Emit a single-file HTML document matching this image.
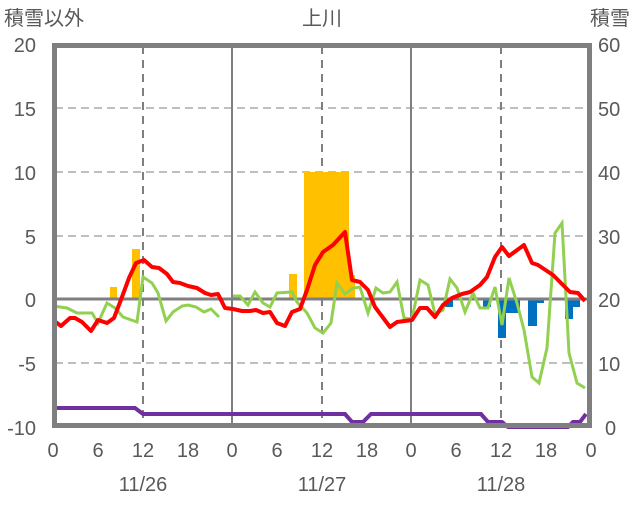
<!DOCTYPE html>
<html><head><meta charset="utf-8"><style>
html,body{margin:0;padding:0;background:#fff;}
svg text{font-family:"Liberation Sans","Noto Sans CJK JP",sans-serif;fill:#595959;font-size:20px;}
</style></head><body>
<svg width="636" height="501" viewBox="0 0 636 501" xmlns="http://www.w3.org/2000/svg">
<g stroke="#bfbfbf" stroke-width="2" stroke-dasharray="8,5">
<line x1="55" y1="108" x2="589" y2="108"/><line x1="55" y1="172" x2="589" y2="172"/>
<line x1="55" y1="236" x2="589" y2="236"/><line x1="55" y1="363" x2="589" y2="363"/>
</g>
<g stroke="#7f7f7f" stroke-width="2" stroke-dasharray="8,6">
<line x1="143" y1="46" x2="143" y2="425"/><line x1="322" y1="46" x2="322" y2="425"/><line x1="501" y1="46" x2="501" y2="425"/>
</g>
<g stroke="#7f7f7f" stroke-width="2">
<line x1="232" y1="46" x2="232" y2="425"/><line x1="411" y1="46" x2="411" y2="425"/>
</g>
<g fill="#ffc000">
<rect x="110" y="287" width="7" height="12"/><rect x="132" y="249" width="8" height="50"/>
<rect x="289" y="274" width="8" height="25"/><rect x="304" y="172" width="45" height="127"/>
<rect x="349" y="275" width="6" height="24"/>
</g>
<g fill="#0070c0">
<rect x="445" y="299" width="8" height="8"/><rect x="483" y="299" width="8" height="8"/>
<rect x="498" y="299" width="8" height="39"/><rect x="506" y="299" width="14" height="14"/>
<rect x="528" y="299" width="9" height="27"/><rect x="537" y="299" width="7" height="4"/>
<rect x="565" y="299" width="8" height="20"/><rect x="573" y="299" width="7" height="8"/>
</g>
<line x1="53" y1="299" x2="591" y2="299" stroke="#7f7f7f" stroke-width="3"/>
<polyline fill="none" stroke="#92d050" stroke-width="3" points="53,306 67,308 77,313 92,313 98,323 107,303 115,308 123,317 137,322 143,277 152,283 158,293 166,321 173,312 182,306 188,305 196,307 204,312 211,309 219,317"/>
<polyline fill="none" stroke="#92d050" stroke-width="3" points="233,296 240,296 248,305 255,292 263,303 270,307 277,293 292,292 297,302 307,313 315,328 323,333 331,323 337,283 345,294 353,288 360,287 368,313 376,288 383,293 390,292 397,282 404,318 412,319 420,280 428,285 435,314 443,310 450,279 457,288 465,312 473,293 480,308 488,308 495,287 502,325 509,278 517,303 524,330 532,377 539,383 547,348 555,233 562,223 569,353 577,383 585,388"/>
<polyline fill="none" stroke="#ff0000" stroke-width="4" stroke-linejoin="round" points="53,320 61,326 70,318 75,318 82,322 91,331 98,320 107,323 114,318 122,297 129,278 136,263 144,260 152,267 159,268 167,274 173,282 180,283 188,286 197,288 205,293 211,295 218,294 225,308 233,309 242,311 250,311 256,310 263,313 270,312 277,323 285,326 292,312 300,309 307,290 315,265 323,252 333,245 345,232 352,280 360,282 368,290 375,307 390,327 397,322 412,320 420,308 427,308 435,317 443,305 452,298 462,294 470,292 480,285 487,277 495,257 502,247 509,256 524,245 532,263 538,265 553,275 563,285 570,292 578,293 585,301"/>
<polyline fill="none" stroke="#7030a0" stroke-width="4" points="53,408 135,408 143,414 345,414 352,422 363,422 371,414 481,414 488,422 502,422 508,427 568,427 573,422 580,422 586,414"/>
<rect x="54.5" y="45.5" width="535" height="380" fill="none" stroke="#7f7f7f" stroke-width="5"/>
<g text-anchor="end">
<text x="36" y="52">20</text><text x="36" y="116">15</text><text x="36" y="180">10</text>
<text x="36" y="244">5</text><text x="36" y="307">0</text><text x="36" y="371">-5</text><text x="36" y="435">-10</text>
</g>
<g>
<text x="598" y="52">60</text><text x="598" y="116">50</text><text x="598" y="180">40</text>
<text x="598" y="244">30</text><text x="598" y="307">20</text><text x="598" y="371">10</text><text x="605" y="435">0</text>
</g>
<g text-anchor="middle">
<text x="53" y="457">0</text><text x="98" y="457">6</text><text x="143" y="457">12</text><text x="188" y="457">18</text>
<text x="232" y="457">0</text><text x="277" y="457">6</text><text x="322" y="457">12</text><text x="367" y="457">18</text>
<text x="411" y="457">0</text><text x="456" y="457">6</text><text x="501" y="457">12</text><text x="546" y="457">18</text>
<text x="591" y="457">0</text>
<text x="143" y="491">11/26</text><text x="322" y="491">11/27</text><text x="501" y="491">11/28</text>
<text x="322" y="25">上川</text>
</g>
<text x="4" y="25">積雪以外</text>
<text x="590" y="25">積雪</text>
</svg>
</body></html>
